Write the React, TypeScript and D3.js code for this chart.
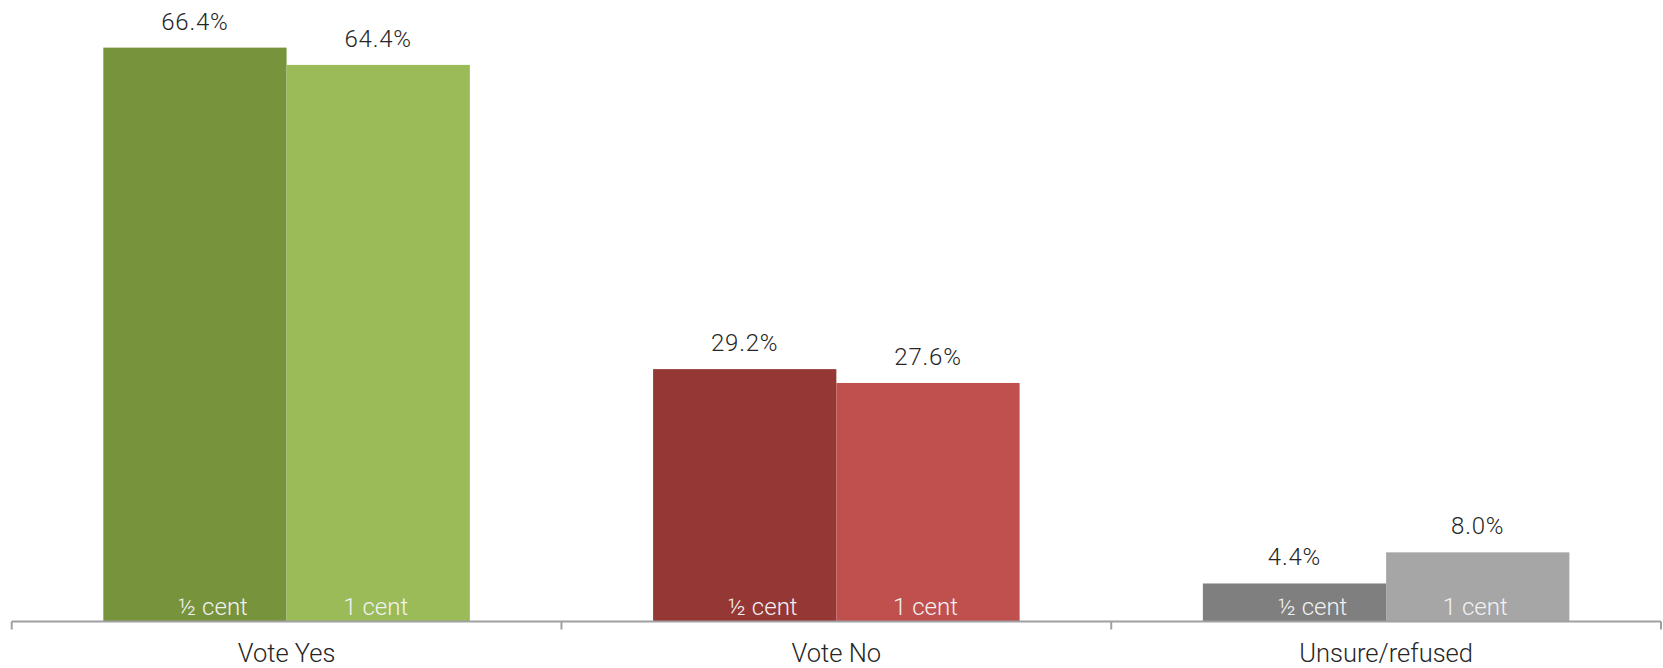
import React from "react";
import * as d3 from "d3";

const categories = ["Vote Yes", "Vote No", "Unsure/refused"];
const seriesNames = ["½ cent", "1 cent"];
const halfCent = [66.4, 29.2, 4.4];
const oneCent = [64.4, 27.6, 8.0];
const yDomainMax = 70;

const darkColors = ["#77933C", "#953735", "#7F7F7F"];
const lightColors = ["#9BBB59", "#C0504D", "#A6A6A6"];

const W = 1663;
const H = 668;
const axisLeft = 11.7;
const axisRight = 1661;
const baseY = 621.5;
const topY = 16.5;
const FONT = "'Roboto Light', Roboto, 'Open Sans', sans-serif";

export default function App() {
  const x = d3.scaleBand<string>().domain(categories).range([axisLeft, axisRight]).paddingInner(0).paddingOuter(0);
  const inner = d3
    .scaleBand<string>()
    .domain(seriesNames)
    .range([0, x.bandwidth()])
    .paddingOuter(0.5)
    .paddingInner(0);
  const y = d3.scaleLinear().domain([0, yDomainMax]).range([baseY, topY]);

  const seriesValues = [halfCent, oneCent];
  const seriesColors = [darkColors, lightColors];
  const innerDx = [18, -2.5];

  const boundaries = categories.map((c) => x(c) as number).concat([axisRight]);

  return (
    <svg
      width={W}
      height={H}
      style={{ position: "absolute", left: 0, top: 0, background: "#fff" }}
      fontFamily={FONT}
    >
      {categories.map((cat, ci) => (
        <g key={cat}>
          {seriesNames.map((s, si) => {
            const v = seriesValues[si][ci];
            const bx = (x(cat) as number) + (inner(s) as number);
            const bw = inner.bandwidth();
            return (
              <g key={s}>
                <rect x={bx} y={y(v)} width={bw} height={y(0) - y(v)} fill={seriesColors[si][ci]} />
                <text
                  x={bx + bw / 2}
                  y={y(v) - 18}
                  textAnchor="middle"
                  fontSize={24}
                  fontWeight={300}
                  fill="#262626"
                  letterSpacing={0.8}
                >
                  {v.toFixed(1) + "%"}
                </text>
                <text
                  x={bx + bw / 2 + innerDx[si]}
                  y={baseY - 6.5}
                  textAnchor="middle"
                  fontSize={24}
                  fontWeight={300}
                  fill="#F2F2F2"
                >
                  {s}
                </text>
              </g>
            );
          })}
          <text
            x={(x(cat) as number) + x.bandwidth() / 2}
            y={661.5}
            textAnchor="middle"
            fontSize={25.5}
            fontWeight={300}
            fill="#262626"
          >
            {cat}
          </text>
        </g>
      ))}
      <line x1={axisLeft} x2={axisRight} y1={baseY} y2={baseY} stroke="#A0A0A0" strokeWidth={2} />
      {boundaries.map((bxv, i) => (
        <line key={i} x1={bxv} x2={bxv} y1={baseY} y2={baseY + 8} stroke="#A0A0A0" strokeWidth={2} />
      ))}
    </svg>
  );
}
